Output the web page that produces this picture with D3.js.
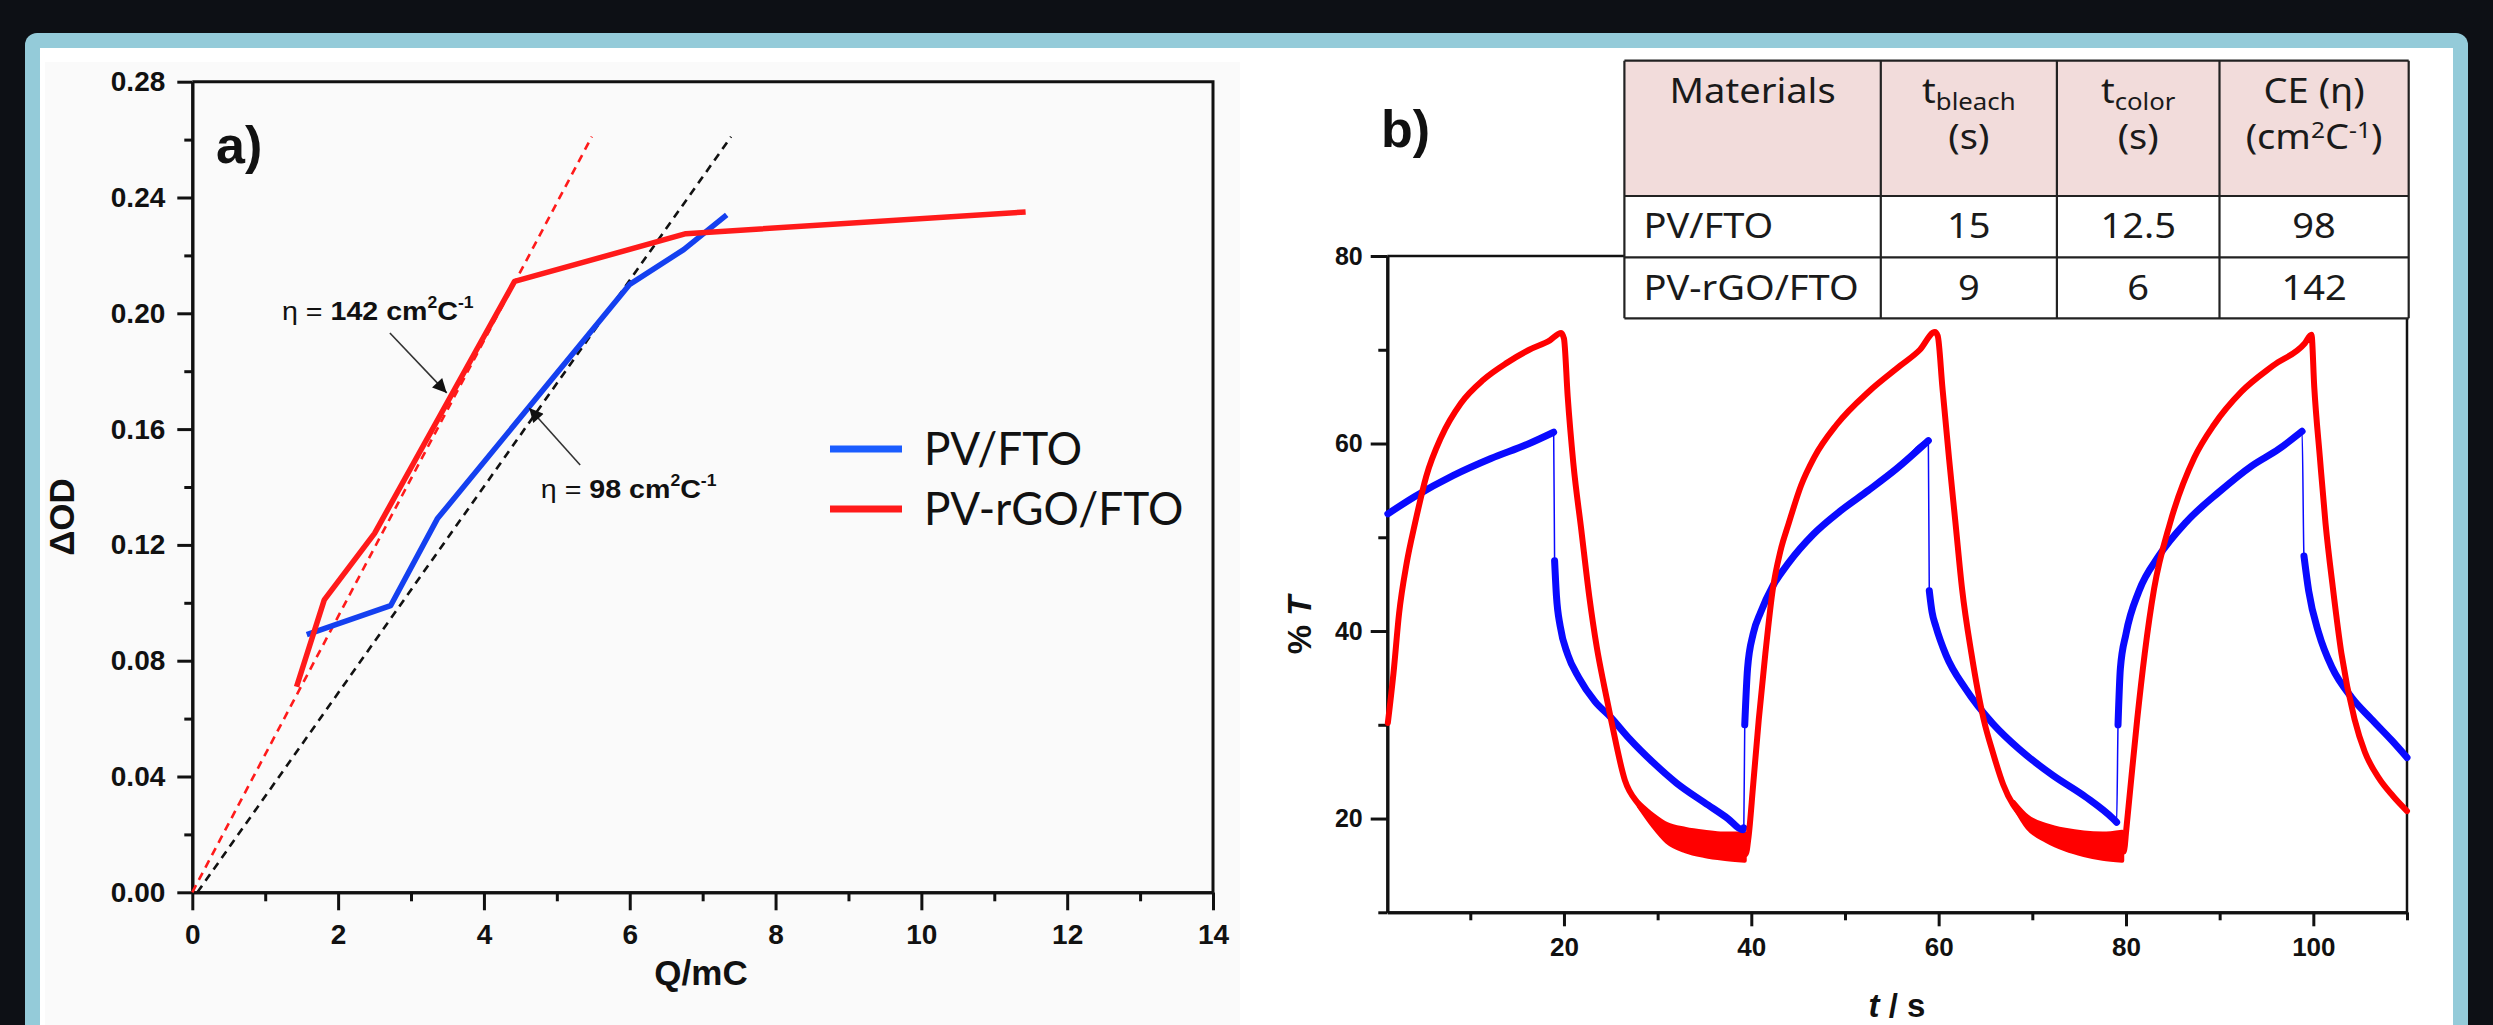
<!DOCTYPE html>
<html lang="en">
<head>
<meta charset="utf-8" />
<title>Coloration efficiency and switching</title>
<script src="https://cdn.jsdelivr.net/npm/d3@7/dist/d3.min.js"></script>
<style>
  body { margin: 0; background: #0d1015; }
  svg { display: block; }
</style>
</head>
<body>
<svg width="2493" height="1025"></svg>
<script>
// ---------- panel a : dOD vs Q ----------
var seriesNames = ["PV/FTO", "PV-rGO/FTO"];
var qBlue  = [1.57, 2.72, 3.36, 6.0, 6.74, 7.33];
var odBlue = [0.089, 0.099, 0.129, 0.21, 0.222, 0.234];
var qRed   = [1.43, 1.81, 2.5, 4.42, 6.77, 11.43];
var odRed  = [0.071, 0.101, 0.124, 0.211, 0.2275, 0.235];
var qFitRed  = [0, 5.48],    odFitRed  = [0, 0.261];
var qFitBlue = [0.07, 7.39], odFitBlue = [0, 0.261];
var qTicks  = [0, 2, 4, 6, 8, 10, 12, 14];
var odTicks = [0, 0.04, 0.08, 0.12, 0.16, 0.2, 0.24, 0.28];

// ---------- panel b : %T vs t ----------
var tRed = [1.2, 1.8, 2.4, 3.2, 4.1, 5.3, 6.9, 9.0, 11.4, 13.9, 16.3, 18.5, 19.7,
  20.0, 20.4, 21.0, 21.85, 22.7, 23.5, 24.3, 25.1, 26.5, 28.0, 29.5, 31.0, 33.0, 35.0, 37.0, 39.0,
  39.4, 39.7, 40.2, 40.8, 41.5, 42.3, 43.1, 44.0, 45.3, 46.7, 49.1, 52.5, 55.9, 58.0, 59.6,
  59.9, 60.4, 61.1, 61.8, 62.5, 63.5, 64.8, 65.8, 66.9, 69.0, 71.0, 73.0, 75.5, 78.0, 79.5,
  79.8, 80.0, 80.5, 81.2, 82.0, 83.0, 84.7, 87.3, 89.4, 92.3, 95.7, 99.1, 99.8,
  100.1, 100.7, 101.3, 102.1, 103.0, 104.4, 105.5, 107.0, 108.5, 110.0];
var pRed = [30.2, 35.5, 41.9, 47.2, 51.5, 56.5, 60.7, 64.3, 66.8, 68.6, 70.0, 71.0, 71.8,
  71.2, 65.0, 57.9, 50.8, 43.7, 38.3, 34.1, 30.2, 24.1, 21.5, 19.8, 18.4, 17.5, 17.0, 16.7, 16.4,
  16.2, 18.0, 23.6, 30.6, 37.6, 44.5, 48.5, 51.5, 55.5, 58.5, 62.0, 65.5, 68.3, 70.0, 71.9,
  71.5, 66.0, 58.5, 51.5, 44.5, 37.6, 30.6, 27.0, 23.6, 20.1, 18.7, 17.8, 17.1, 16.7, 16.4,
  16.5, 18.5, 23.6, 30.6, 37.6, 44.5, 51.5, 58.5, 62.0, 65.5, 68.3, 70.7, 71.6,
  66.0, 58.5, 51.5, 44.5, 37.6, 30.6, 27.1, 24.3, 22.4, 20.8];
// scatter band of the red trace in the two fully bleached troughs
var tRedBand  = [[28.0, 29.5, 31, 33, 35, 37, 39.3], [68.0, 69.5, 71.5, 73.5, 75.5, 77.5, 79.6]];
var hiRedBand = [[21.7, 20.4, 19.4, 18.9, 18.6, 18.4, 18.4], [21.8, 20.2, 19.3, 18.8, 18.5, 18.4, 18.6]];
var loRedBand = [[21.3, 19.2, 17.5, 16.5, 16.0, 15.7, 15.5], [21.4, 19.0, 17.6, 16.7, 16.1, 15.7, 15.5]];
var tBlue = [1.2, 4.0, 8.2, 12.2, 16.3, 18.9,
  19.0, 19.2, 19.6, 20.4, 21.6, 23.3, 25.0, 27.0, 29.5, 32.0, 35.0, 37.5, 39.1,
  39.2, 39.3, 39.6, 40.2, 41.0, 42.3, 44.0, 46.6, 49.5, 52.5, 55.5, 58.9,
  59.0, 59.3, 59.7, 60.8, 62.9, 65.8, 68.6, 72.2, 75.7, 78.6, 79.0,
  79.15, 79.4, 80.0, 81.4, 83.5, 86.4, 89.9, 93.4, 96.3, 98.8,
  99.0, 99.5, 100.6, 102.0, 104.1, 106.2, 108.4, 110.0];
var pBlue = [52.5, 54.3, 56.6, 58.4, 60.0, 61.2,
  47.5, 43.7, 40.5, 37.5, 35.0, 32.5, 30.8, 28.5, 26.0, 23.8, 21.7, 20.0, 18.8,
  19.0, 30.0, 36.0, 39.7, 42.0, 44.8, 47.3, 50.3, 52.8, 55.0, 57.3, 60.3,
  44.3, 42.0, 40.5, 37.4, 33.8, 30.1, 27.4, 24.6, 22.3, 20.0, 19.6,
  30.0, 36.0, 39.7, 44.3, 48.0, 51.6, 54.8, 57.6, 59.4, 61.3,
  48.0, 44.3, 39.7, 36.1, 32.9, 30.6, 28.3, 26.5];
var tMajor = [20, 40, 60, 80, 100];
var tMinor = [10, 30, 50, 70, 90, 110];
var pMajor = [20, 40, 60, 80];
var pMinor = [10, 30, 50, 70];

// ---------- table ----------
var tableRows = [["PV/FTO", "15", "12.5", "98"], ["PV-rGO/FTO", "9", "6", "142"]];

var colBlue = "#1440f0", colRed = "#ff1a1a";
var svg = d3.select("svg");
var bold = "'Liberation Sans', Arial, sans-serif";

// background card
svg.append("rect").attr("width", 2493).attr("height", 1025).attr("fill", "#0d1015");
svg.append("rect").attr("x", 25).attr("y", 33).attr("width", 2443).attr("height", 1100)
  .attr("rx", 12).attr("fill", "#94cbd9");
svg.append("rect").attr("x", 40).attr("y", 48).attr("width", 2413).attr("height", 1100)
  .attr("fill", "#ffffff");
svg.append("rect").attr("x", 45).attr("y", 62).attr("width", 1195).attr("height", 1000)
  .attr("fill", "#fafafa");

function styleAxis(g, size) {
  g.select(".domain").attr("stroke", "#111").attr("stroke-width", 3);
  g.selectAll(".tick line").attr("stroke", "#111").attr("stroke-width", 3);
  g.selectAll("text").attr("fill", "#111").style("font-family", bold)
    .style("font-weight", "bold").style("font-size", size + "px");
}

// ================= panel a =================
var xA = d3.scaleLinear().domain([0, 14]).range([192.3, 1213]);
var yA = d3.scaleLinear().domain([0, 0.28]).range([892.3, 81.7]);
var a = svg.append("g");

a.append("g").attr("transform", "translate(0,892.3)")
  .call(d3.axisBottom(xA).tickValues(d3.range(1, 14, 2)).tickSize(9).tickFormat("").tickSizeOuter(0))
  .call(styleAxis, 28);
a.append("g").attr("transform", "translate(0,892.3)")
  .call(d3.axisBottom(xA).tickValues(qTicks).tickSize(18).tickPadding(14).tickSizeOuter(0))
  .call(styleAxis, 28);
a.append("g").attr("transform", "translate(192.3,0)")
  .call(d3.axisLeft(yA).tickValues(d3.range(0.02, 0.28, 0.04)).tickSize(8).tickFormat("").tickSizeOuter(0))
  .call(styleAxis, 28);
a.append("g").attr("transform", "translate(192.3,0)")
  .call(d3.axisLeft(yA).tickValues(odTicks).tickSize(15).tickPadding(12).tickFormat(d3.format(".2f")).tickSizeOuter(0))
  .call(styleAxis, 28);
a.append("path").attr("fill", "none").attr("stroke", "#111").attr("stroke-width", 3)
  .attr("d", "M" + xA(0) + "," + yA(0.28) + "H" + xA(14) + "V" + yA(0));

var lineA = d3.line().x(function (d) { return xA(d[0]); }).y(function (d) { return yA(d[1]); });
function pairs(xs, ys) { return xs.map(function (v, i) { return [v, ys[i]]; }); }

a.append("path").datum(pairs(qFitRed, odFitRed)).attr("d", lineA)
  .attr("fill", "none").attr("stroke", colRed).attr("stroke-width", 2.6).attr("stroke-dasharray", "8,6");
a.append("path").datum(pairs(qFitBlue, odFitBlue)).attr("d", lineA)
  .attr("fill", "none").attr("stroke", "#111").attr("stroke-width", 2.6).attr("stroke-dasharray", "8,6");
a.append("path").datum(pairs(qBlue, odBlue)).attr("d", lineA)
  .attr("fill", "none").attr("stroke", colBlue).attr("stroke-width", 5.5).attr("stroke-linejoin", "round");
a.append("path").datum(pairs(qRed, odRed)).attr("d", lineA)
  .attr("fill", "none").attr("stroke", colRed).attr("stroke-width", 5.5).attr("stroke-linejoin", "round");

// arrows
svg.append("defs").append("marker").attr("id", "arr").attr("viewBox", "0 0 10 10")
  .attr("refX", 10).attr("refY", 5).attr("markerWidth", 16).attr("markerHeight", 14)
  .attr("markerUnits", "userSpaceOnUse").attr("orient", "auto")
  .append("path").attr("d", "M0,0L10,5L0,10z").attr("fill", "#111");

function note(q, od, val, q0, od0, q1, od1) {
  var t = a.append("text").attr("transform", "translate(" + xA(q) + "," + yA(od) + ") scale(1.1,1)")
    .style("font-family", bold).style("font-size", "26px").attr("fill", "#111");
  t.append("tspan").text("\u03b7 = ");
  t.append("tspan").style("font-weight", "bold").text(val + " cm");
  t.append("tspan").style("font-weight", "bold").style("font-size", "16px").attr("dy", -12).text("2");
  t.append("tspan").style("font-weight", "bold").attr("dy", 12).text("C");
  t.append("tspan").style("font-weight", "bold").style("font-size", "16px").attr("dy", -12).text("-1");
  a.append("line").attr("x1", xA(q0)).attr("y1", yA(od0)).attr("x2", xA(q1)).attr("y2", yA(od1))
    .attr("stroke", "#333").attr("stroke-width", 1.6).attr("marker-end", "url(#arr)");
}
note(1.23, 0.1977, "142", 2.71, 0.1932, 3.49, 0.1725);
note(4.78, 0.1362, "98", 5.32, 0.1476, 4.62, 0.1673);

a.append("text").attr("x", 216).attr("y", 163).text("a)")
  .style("font-family", bold).style("font-weight", "bold").style("font-size", "52px").attr("fill", "#111");
a.append("text").attr("x", 701).attr("y", 985).attr("text-anchor", "middle").text("Q/mC")
  .style("font-family", bold).style("font-weight", "bold").style("font-size", "35px").attr("fill", "#111");
a.append("text").attr("transform", "translate(74,517) rotate(-90)").attr("text-anchor", "middle").text("\u0394OD")
  .style("font-family", bold).style("font-weight", "bold").style("font-size", "35px").attr("fill", "#111");

// legend
var leg = a.selectAll(".leg").data(seriesNames).enter().append("g")
  .attr("transform", function (d, i) { return "translate(830," + (449 + i * 60) + ")"; });
leg.append("line").attr("x2", 72).attr("stroke-width", 7)
  .attr("stroke", function (d, i) { return i ? colRed : "#1a5cff"; });
leg.append("text").attr("x", 98).attr("y", 16).text(function (d) { return d; })
  .attr("transform", "scale(0.96,1)")
  .style("font-family", "Lato, 'Open Sans', sans-serif").style("font-size", "46px").attr("fill", "#111");

// ================= panel b =================
var xB = d3.scaleLinear().domain([1.14, 110]).range([1387.3, 2407]);
var yB = d3.scaleLinear().domain([10, 80]).range([912.3, 256]);
var b = svg.append("g");

b.append("g").attr("transform", "translate(0,912.3)")
  .call(d3.axisBottom(xB).tickValues(tMinor).tickSize(8).tickFormat("").tickSizeOuter(0))
  .call(styleAxis, 26);
b.append("g").attr("transform", "translate(0,912.3)")
  .call(d3.axisBottom(xB).tickValues(tMajor).tickSize(14).tickPadding(11).tickSizeOuter(0))
  .call(styleAxis, 26);
b.append("g").attr("transform", "translate(1387.3,0)")
  .call(d3.axisLeft(yB).tickValues(pMinor).tickSize(9).tickFormat("").tickSizeOuter(0))
  .call(styleAxis, 25);
b.append("g").attr("transform", "translate(1387.3,0)")
  .call(d3.axisLeft(yB).tickValues(pMajor).tickSize(16.6).tickPadding(8).tickSizeOuter(0))
  .call(styleAxis, 25);
b.append("path").attr("fill", "none").attr("stroke", "#111").attr("stroke-width", 2.5)
  .attr("d", "M" + xB(1.14) + "," + yB(80) + "H" + xB(110) + "V" + yB(10));

// thick dotted band where the signal moves slowly, thin trace across the fast jumps
function runs(ts, ps, maxSlope) {
  var out = [], cur = [[ts[0], ps[0]]];
  for (var i = 1; i < ts.length; i++) {
    if (Math.abs((ps[i] - ps[i - 1]) / (ts[i] - ts[i - 1])) > maxSlope) { out.push(cur); cur = []; }
    cur.push([ts[i], ps[i]]);
  }
  out.push(cur);
  return out;
}
var lineB = d3.line().x(function (d) { return xB(d[0]); }).y(function (d) { return yB(d[1]); })
  .curve(d3.curveMonotoneX);
var bandB = d3.area().x(function (d) { return xB(d[0]); })
  .y0(function (d) { return yB(d[1]); }).y1(function (d) { return yB(d[2]); })
  .curve(d3.curveMonotoneX);

b.selectAll(".band").data(tRedBand).enter().append("path")
  .attr("d", function (ts, k) {
    return bandB(ts.map(function (t, i) { return [t, loRedBand[k][i], hiRedBand[k][i]]; }));
  })
  .attr("fill", "#ff0000").attr("stroke", "#ff0000").attr("stroke-width", 4).attr("stroke-linejoin", "round");

[[tBlue, pBlue, "#0a0aff", 7], [tRed, pRed, "#ff0000", 6]].forEach(function (s) {
  b.append("path").datum(pairs(s[0], s[1])).attr("d", lineB)
    .attr("fill", "none").attr("stroke", s[2]).attr("stroke-width", 1.5);
  b.selectAll(null).data(runs(s[0], s[1], 30)).enter().append("path").attr("d", lineB)
    .attr("fill", "none").attr("stroke", s[2]).attr("stroke-width", s[3])
    .attr("stroke-linecap", "round").attr("stroke-linejoin", "round");
});

b.append("text").attr("x", 1381).attr("y", 147).text("b)")
  .style("font-family", bold).style("font-weight", "bold").style("font-size", "52px").attr("fill", "#111");
var tl = b.append("text").attr("x", 1897).attr("y", 1017).attr("text-anchor", "middle")
  .style("font-family", bold).style("font-weight", "bold").style("font-size", "33px").attr("fill", "#111");
tl.append("tspan").style("font-style", "italic").text("t");
tl.append("tspan").text(" / s");
var pl = b.append("text").attr("transform", "translate(1311,625) rotate(-90)").attr("text-anchor", "middle")
  .style("font-family", bold).style("font-weight", "bold").style("font-size", "33px").attr("fill", "#111");
pl.append("tspan").text("% ");
pl.append("tspan").style("font-style", "italic").text("T");

// ================= table =================
var colX = [1624.4, 1880.8, 2056.9, 2219.5, 2408.7];
var rowY = [60.7, 196, 257.3, 318.3];
var tbl = svg.append("g");
var tf = "'Noto Sans', 'Open Sans', sans-serif";
tbl.append("rect").attr("x", colX[0]).attr("y", rowY[0]).attr("width", colX[4] - colX[0])
  .attr("height", rowY[1] - rowY[0]).attr("fill", "#f2dcdb");
tbl.append("rect").attr("x", colX[0]).attr("y", rowY[1]).attr("width", colX[4] - colX[0])
  .attr("height", rowY[3] - rowY[1]).attr("fill", "#ffffff");
rowY.forEach(function (y) {
  tbl.append("line").attr("x1", colX[0]).attr("x2", colX[4]).attr("y1", y).attr("y2", y)
    .attr("stroke", "#222").attr("stroke-width", 2.2);
});
colX.forEach(function (x) {
  tbl.append("line").attr("x1", x).attr("x2", x).attr("y1", rowY[0]).attr("y2", rowY[3])
    .attr("stroke", "#222").attr("stroke-width", 2.2);
});
function cellText(x, y, anchor) {
  return tbl.append("text").attr("transform", "translate(" + x + "," + y + ") scale(1.12,1)")
    .attr("text-anchor", anchor).style("font-family", tf).style("font-size", "34px").attr("fill", "#1a1a1a");
}
function mid(i) { return (colX[i] + colX[i + 1]) / 2; }
cellText(mid(0), 103, "middle").text("Materials");
[["bleach", 1], ["color", 2]].forEach(function (h) {
  var t = cellText(mid(h[1]), 103, "middle");
  t.append("tspan").text("t");
  t.append("tspan").attr("dy", 7).style("font-size", "23px").text(h[0]);
  t.append("tspan").attr("x", 0).attr("dy", 39).text("(s)");
});
var ce = cellText(mid(3), 103, "middle");
ce.append("tspan").text("CE (\u03b7)");
ce.append("tspan").attr("x", 0).attr("dy", 46).text("(cm");
ce.append("tspan").attr("dy", -11).style("font-size", "22px").text("2");
ce.append("tspan").attr("dy", 11).text("C");
ce.append("tspan").attr("dy", -11).style("font-size", "22px").text("-1");
ce.append("tspan").attr("dy", 11).text(")");
tableRows.forEach(function (r, j) {
  var y = [238, 300][j];
  cellText(colX[0] + 19, y, "start").text(r[0]);
  for (var k = 1; k < 4; k++) cellText(mid(k), y, "middle").text(r[k]);
});
</script>
</body>
</html>
